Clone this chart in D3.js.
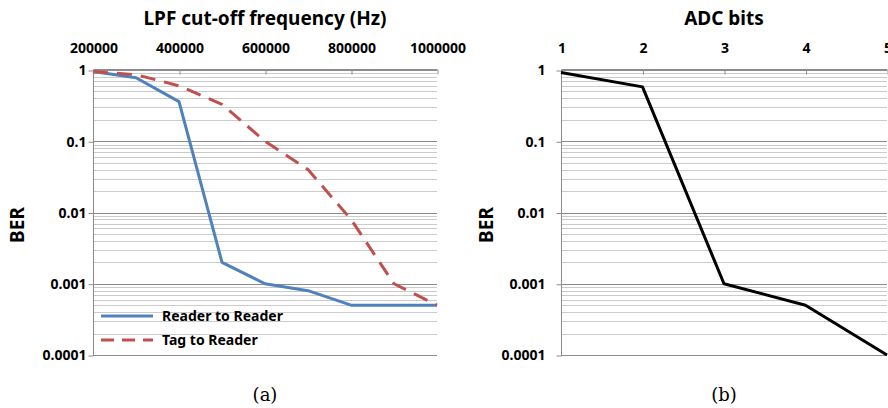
<!DOCTYPE html>
<html>
<head>
<meta charset="utf-8">
<script src="https://cdn.jsdelivr.net/npm/d3@7"></script>
<style>
  body { margin: 0; background: #fff; }
  svg { display: block; }
  .lbl { font-family: "Noto Sans", "DejaVu Sans", sans-serif; font-weight: bold; fill: #000; }
</style>
</head>
<body>
<svg id="chart" width="888" height="408"></svg>
<script>
// values
var freqs = [200000, 300000, 400000, 500000, 600000, 700000, 800000, 900000, 1000000];
var readerToReader = [0.95, 0.78, 0.36, 0.002, 0.001, 0.0008, 0.0005, 0.0005, 0.0005];
var tagToReader = [0.95, 0.86, 0.6, 0.33, 0.1, 0.04, 0.008, 0.001, 0.0005];
var freqTicks = [200000, 400000, 600000, 800000, 1000000];

var adcBits = [1, 2, 3, 4, 5];
var adcBer = [0.92, 0.58, 0.001, 0.0005, 0.0001];

var berTicks = [1, 0.1, 0.01, 0.001, 0.0001];
var berLabels = ["1", "0.1", "0.01", "0.001", "0.0001"];

var svg = d3.select("#chart");

function drawPanel(opt) {
  var x = d3.scaleLinear().domain(opt.xDomain).range([opt.left, opt.right]);
  var y = d3.scaleLog().domain([0.0001, 1]).range([355, 70]);
  var g = svg.append("g");

  // gridlines, minor first then major
  var all = y.ticks();
  var minor = all.filter(function (v) { return berTicks.indexOf(v) < 0; });
  g.selectAll(".minor").data(minor).enter().append("line")
    .attr("x1", opt.left).attr("x2", opt.right)
    .attr("y1", function (d) { return Math.round(y(d)) + 0.5; })
    .attr("y2", function (d) { return Math.round(y(d)) + 0.5; })
    .attr("stroke", "#cbcbcb").attr("stroke-width", 1);
  g.selectAll(".major").data(berTicks).enter().append("line")
    .attr("x1", opt.left).attr("x2", opt.right)
    .attr("y1", function (d) { return Math.round(y(d)) + 0.5; })
    .attr("y2", function (d) { return Math.round(y(d)) + 0.5; })
    .attr("stroke", "#8c8c8c").attr("stroke-width", 1);

  // y axis
  var yAxis = d3.axisLeft(y).tickValues(berTicks)
    .tickFormat(function (d, i) { return berLabels[i]; })
    .tickSize(5).tickPadding(opt.yPad);
  var ya = g.append("g").attr("transform", "translate(" + (opt.left + 0.5) + ",0.5)").call(yAxis);
  ya.selectAll("line, path").attr("stroke", "#8c8c8c");
  ya.select(".domain").attr("d", "M0," + 70 + "V" + 355);
  ya.selectAll("text").attr("class", "lbl").style("font-size", "14px").attr("font-family", null);

  // x axis at top, ticks pointing into the plot
  var xAxis = d3.axisTop(x).tickValues(opt.xTicks).tickFormat(d3.format("d"))
    .tickSize(-5).tickPadding(17);
  var xa = g.append("g").attr("transform", "translate(0.5," + 69.5 + ")").call(xAxis);
  xa.selectAll("line, path").attr("stroke", "#8c8c8c");
  xa.select(".domain").attr("d", "M" + opt.left + ",0H" + opt.right);
  xa.selectAll("text").attr("class", "lbl").style("font-size", "14px").attr("font-family", null);

  // titles
  g.append("text").attr("class", "lbl").attr("x", (opt.left + opt.right) / 2).attr("y", 25)
    .attr("text-anchor", "middle").style("font-size", "19px").text(opt.title);
  g.append("text").attr("class", "lbl")
    .attr("transform", "translate(" + opt.berX + ",225) rotate(-90)")
    .attr("text-anchor", "middle").style("font-size", "19px").text("BER");
  g.append("text").attr("x", (opt.left + opt.right) / 2).attr("y", 401)
    .attr("text-anchor", "middle")
    .style("font-family", "'DejaVu Serif', 'Liberation Serif', serif").style("font-size", "18px")
    .text(opt.caption);

  var line = d3.line().x(function (d) { return x(d[0]); }).y(function (d) { return y(d[1]); });
  opt.series.forEach(function (s) {
    g.append("path").datum(d3.zip(opt.xs, s.values))
      .attr("d", line).attr("fill", "none")
      .attr("stroke", s.color).attr("stroke-width", s.width)
      .attr("stroke-dasharray", s.dash || null)
      .attr("stroke-linejoin", "round");
  });
  return { x: x, y: y };
}

drawPanel({
  left: 93, right: 437, xDomain: [200000, 1000000], xTicks: freqTicks, xs: freqs,
  title: "LPF cut-off frequency (Hz)", caption: "(a)", berX: 24, yPad: 2,
  series: [
    { name: "Reader to Reader", values: readerToReader, color: "#4f81bd", width: 3 },
    { name: "Tag to Reader", values: tagToReader, color: "#c0504d", width: 3, dash: "15,9" }
  ]
});

drawPanel({
  left: 561, right: 887, xDomain: [1, 5], xTicks: adcBits, xs: adcBits,
  title: "ADC bits", caption: "(b)", berX: 493, yPad: 11,
  series: [{ name: "ADC", values: adcBer, color: "#000", width: 3 }]
});

// legend for panel (a)
var legendItems = [
  { label: "Reader to Reader", color: "#4f81bd", dash: null },
  { label: "Tag to Reader", color: "#c0504d", dash: "13,8" }
];
var legend = svg.append("g").attr("class", "legend");
legend.selectAll("g").data(legendItems).enter().append("g")
  .each(function (d, i) {
    var gi = d3.select(this);
    gi.append("line").attr("x1", 101).attr("x2", 153)
      .attr("y1", 316 + i * 24).attr("y2", 316 + i * 24)
      .attr("stroke", d.color).attr("stroke-width", 3)
      .attr("stroke-dasharray", d.dash);
    gi.append("text").attr("class", "lbl").attr("x", 162).attr("y", 321 + i * 24)
      .style("font-size", "14px").text(d.label);
  });
</script>
</body>
</html>
